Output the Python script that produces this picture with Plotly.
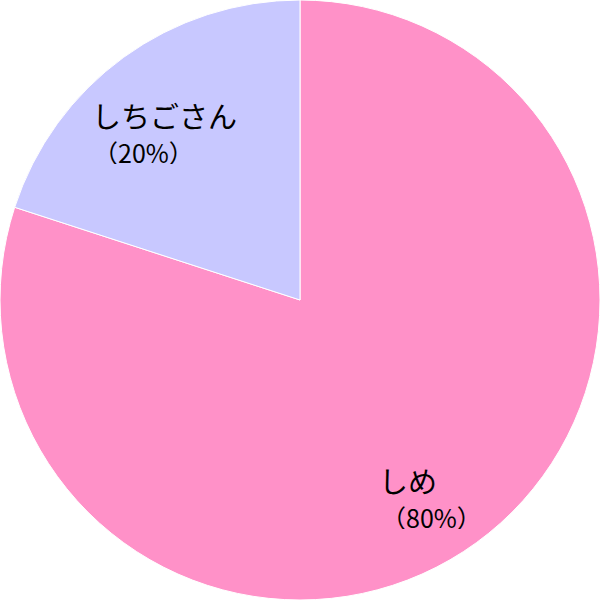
import plotly.graph_objects as go

names = ["しめ", "しちごさん"]
shares = [80, 20]
colors = ["#FF91C8", "#C8C8FF"]

# label anchor points in paper coords: (name x, name y, percent x, percent y)
label_pos = [(0.629, 0.200, 0.632, 0.138), (0.150, 0.808, 0.152, 0.746)]

fig = go.Figure(
    go.Pie(
        labels=names,
        values=shares,
        sort=False,
        direction="clockwise",
        rotation=0,
        marker=dict(colors=colors, line=dict(color="white", width=1)),
        textinfo="none",
        hoverinfo="label+percent",
        showlegend=False,
        domain=dict(x=[0, 1], y=[0, 1]),
    )
)

font = "Noto Sans CJK JP"
for name, share, (nx, ny, px, py) in zip(names, shares, label_pos):
    fig.add_annotation(
        x=nx, y=ny, xref="paper", yref="paper", xanchor="left", yanchor="middle",
        text=name, showarrow=False, height=30,
        font=dict(family=font, size=29, color="black"),
    )
    fig.add_annotation(
        x=px, y=py, xref="paper", yref="paper", xanchor="left", yanchor="middle",
        text=f"（{share}%）", showarrow=False, height=24,
        font=dict(family=font, size=25, color="black"),
    )

fig.update_layout(
    width=600,
    height=600,
    margin=dict(l=0, r=0, t=0, b=0),
    paper_bgcolor="white",
    plot_bgcolor="white",
)

# drop the default body margin so the 600x600 plot fills the window
fig.write_html(
    "out.html",
    config={"displayModeBar": False},
    post_script="document.body.style.margin='0';document.body.style.overflow='hidden';",
)
